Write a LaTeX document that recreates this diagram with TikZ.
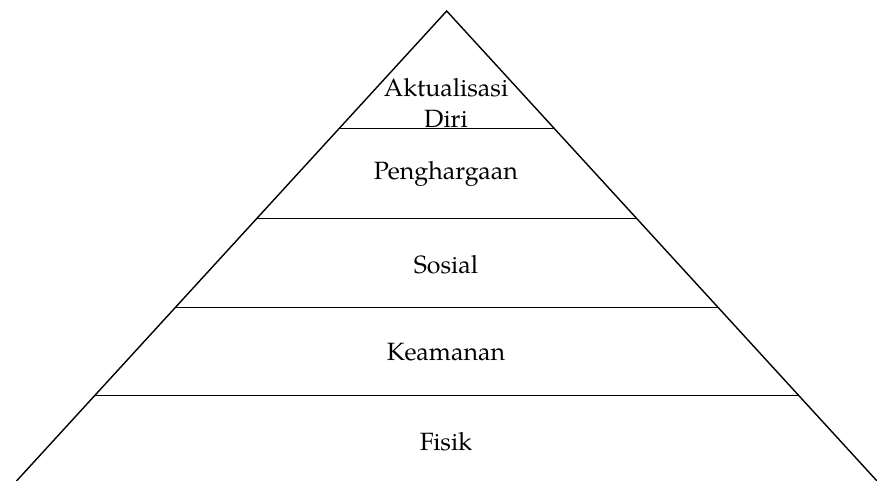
\documentclass[tikz,border=0pt]{standalone}
\usepackage{fontspec}
\setmainfont{texgyrepagella-regular.otf}
\usetikzlibrary{calc}
\begin{document}
\begin{tikzpicture}[x=1pt,y=-1pt,
  edge/.style={line width=1.4pt, line cap=round},
  level/.style={line width=1.4pt},
  lbl/.style={anchor=base, inner sep=0pt, font=\fontsize{25}{31}\selectfont}]
\useasboundingbox (0,0) rectangle (877,481);
\coordinate (apex) at (446.7,11);
\coordinate (bl) at (16.5,481);
\coordinate (br) at (877,481);
\draw[edge] (bl) -- (apex) -- (br);
% level lines (fraction of height from apex: (y-11)/470)
\foreach \n/\y in {a/128.5, b/218.3, c/307.3, d/395.7}{
  \pgfmathsetmacro{\t}{(\y-11)/470}
  \coordinate (L\n) at ($(apex)!\t!(bl)$);
  \coordinate (R\n) at ($(apex)!\t!(br)$);
  \draw[level] (L\n) -- (R\n);
}
\node[lbl] (akt) at (446,96.7) {Aktualisasi};
\node[lbl] (diri) at (446,127.7) {Diri};
\node[lbl] (peng) at (446,179) {Penghargaan};
\node[lbl] (sos) at (446,273) {Sosial};
\node[lbl] (kea) at (446,360.7) {Keamanan};
\node[lbl] (fis) at (446,450) {Fisik};
\end{tikzpicture}
\end{document}
